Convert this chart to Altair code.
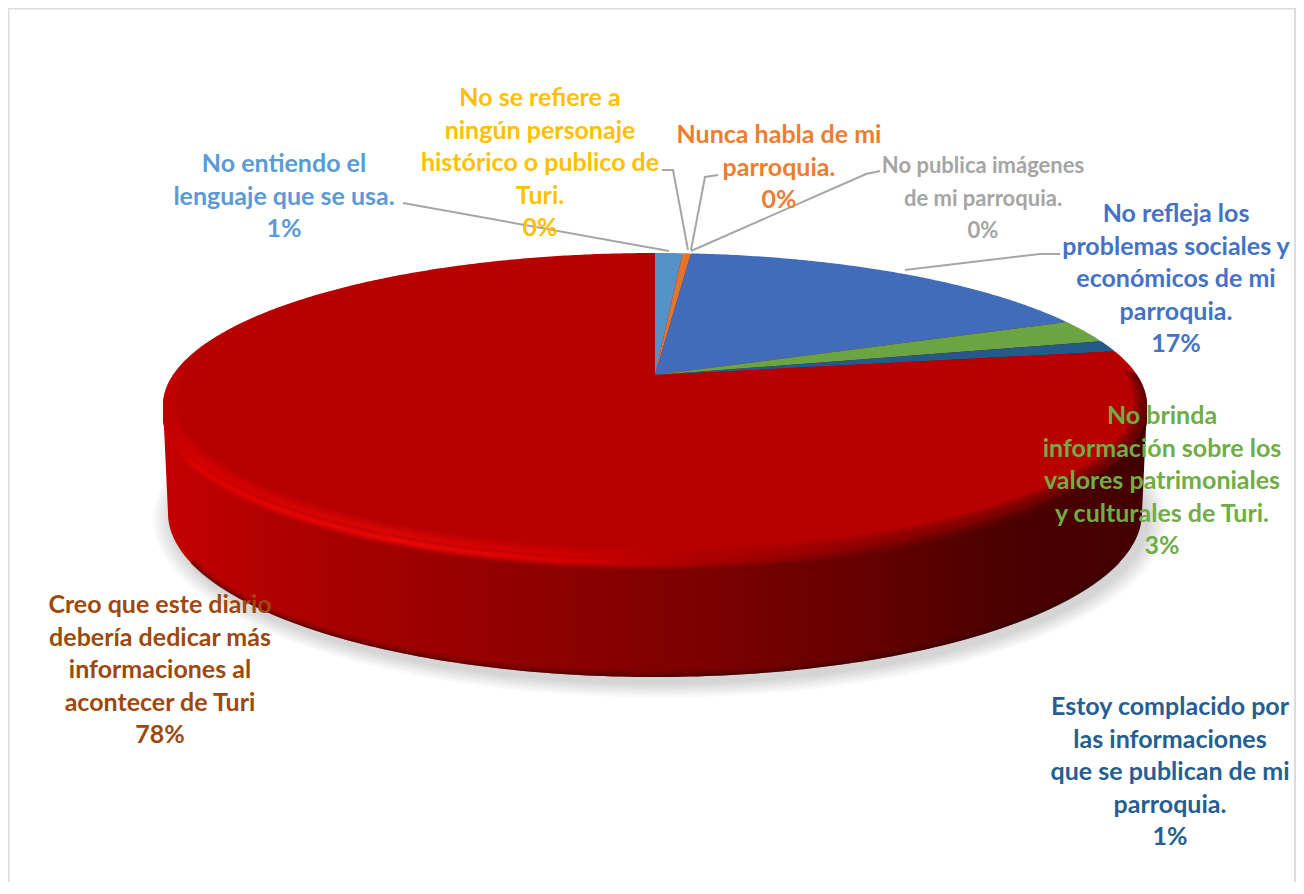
import math
import altair as alt

# ---- data -----------------------------------------------------------------
slice_names = ["No entiendo el lenguaje", "No se refiere", "Nunca habla", "No publica imágenes",
               "No refleja", "No brinda", "Estoy complacido", "Creo que"]
slice_values = [1.1, 0.0, 0.33, 0.0, 17.2, 2.5, 1.2, 77.7]
slice_colors = ["#5592ca", "#e0a800", "#e2752e", "#a5a5a5", "#416cba", "#6aa443", "#235a8a", "#b70000"]

label_texts = [
    "No entiendo el\nlenguaje que se usa.\n1%",
    "No se refiere a\nningún personaje\nhistórico o publico de\nTuri.\n0%",
    "Nunca habla de mi\nparroquia.\n0%",
    "No publica imágenes\nde mi parroquia.\n0%",
    "No refleja los\nproblemas sociales y\neconómicos de mi\nparroquia.\n17%",
    "No brinda\ninformación sobre los\nvalores patrimoniales\ny culturales de Turi.\n3%",
    "Estoy complacido por\nlas informaciones\nque se publican de mi\nparroquia.\n1%",
    "Creo que este diario\ndebería dedicar más\ninformaciones al\nacontecer de Turi\n78%",
]
label_colors = ["#5b9bd5", "#ffc000", "#ed7d31", "#a5a5a5", "#4472c4", "#70ad47", "#255e91", "#9e480e"]
label_cx = [284, 540, 779, 983, 1176, 1162, 1170, 160]
label_cy = [164, 98, 135, 166, 214, 416, 707, 605]
label_sizes = [25, 25, 25, 22, 25, 25, 25, 25]

leaders = [
    [(403, 203), (669, 251)],
    [(662, 170), (673, 170), (688, 250)],
    [(718, 175), (705, 177), (691, 250)],
    [(880, 171), (866, 174), (691, 251)],
    [(905, 270), (1040, 254), (1060, 254)],
]

# ---- geometry of the tilted disc (image pixels) ----------------------------
M = 8                      # page margin
APEX = (655, 375)
A, B, K = 482, 146.4, 0.2  # perspective circle
FACE = (655, 405.5, 492, 152.5)
BASE = (655, 513, 487, 164)

wall_stops = [(0, "#c40000"), (.15, "#aa0000"), (.35, "#920000"), (.55, "#7c0000"),
              (.72, "#640000"), (.85, "#4c0000"), (1, "#430000")]
bevel_stops = [(0, "#c00000"), (.03, "#e00000"), (.24, "#e80808"), (.40, "#dc0000"),
               (.55, "#a80000"), (.75, "#780000"), (.9, "#500000"), (1, "#400000")]


def px(p):
    return [p[0] - M, p[1] - M]


def persp(theta):
    x, z = math.sin(theta), math.cos(theta)
    w = 1 + K * z
    return (APEX[0] + A * x / w, APEX[1] - B * z / w)


def ell(e, t):
    return (e[0] + e[2] * math.cos(t), e[1] + e[3] * math.sin(t))


def ring(points):
    pts = [px(p) for p in points]
    pts.append(pts[0])
    return pts


def feature(kind, coords, **props):
    return {"type": "Feature", "properties": props, "geometry": {"type": kind, "coordinates": coords}}


def full_ellipse(e, dy=0):
    pts = [ell(e, math.radians(a)) for a in range(0, 360, 1)]
    return ring([(x, y + dy) for x, y in pts])


def mix(c1, c2, f):
    a = [int(c1[i:i + 2], 16) for i in (1, 3, 5)]
    b = [int(c2[i:i + 2], 16) for i in (1, 3, 5)]
    return "#%02x%02x%02x" % tuple(round(u + (v - u) * f) for u, v in zip(a, b))


def stop_at(stops, o):
    for (o1, c1), (o2, c2) in zip(stops, stops[1:]):
        if o1 <= o <= o2:
            return mix(c1, c2, (o - o1) / (o2 - o1))
    return stops[-1][1]


def grad(stops):
    return alt.Gradient(gradient="linear", x1=0, x2=1, y1=0, y2=0,
                        stops=[alt.GradientStop(offset=o, color=c) for o, c in stops])


proj = dict(type="identity", scale=1, translate=[0, 0])
layers = []


def shape(features, **mark):
    return alt.Chart(alt.Data(values=features)).mark_geoshape(**mark).project(**proj)


# shadow under the disc
for i in range(7):
    grow = 20 - i * 3
    sh = (660, 519, 487 + grow, 164 + grow * .72)
    layers.append(shape([feature("Polygon", [full_ellipse(sh)])], fill="#000000", fillOpacity=.022, strokeWidth=0))

# frame
layers.append(shape([feature("LineString", [px((8.5, 890)), px((8.5, 8.5)), px((1295, 8.5)), px((1295, 890))])],
                    filled=False, stroke="#dcdcdc", strokeWidth=2))

# side wall
lower_face = [ell(FACE, math.radians(a)) for a in range(180, -1, -1)]
lower_base = [ell(BASE, math.radians(a)) for a in range(0, 181)]
layers.append(shape([feature("Polygon", [ring(lower_face + lower_base)])], fill=grad(wall_stops), strokeWidth=0))

# dark soft lower edge of the wall
for w, op in ((6, .12), (4, .18), (2, .3)):
    edge_pts = [px((p[0], p[1] - w / 2)) for p in lower_base[18:163]]
    layers.append(shape([feature("LineString", edge_pts)], filled=False, stroke="#300000", strokeWidth=w, strokeOpacity=op))

# bevel under the top face: soft steps from the wall to the rim highlight and back to the face colour
offs = sorted(set([o for o, _ in bevel_stops] + [o for o, _ in wall_stops]))
for d, f, g in ((12, .15, 0), (10.5, .35, 0), (9, .6, 0), (7.5, .85, 0), (6, 1, 0),
                (4.5, 1, .15), (3, 1, .4), (1.5, 1, .65)):
    st = [(o, mix(mix(stop_at(wall_stops, o), stop_at(bevel_stops, o), f), "#b70000", g if o < .45 else g * .5))
          for o in offs]
    layers.append(shape([feature("Polygon", [full_ellipse(FACE, d)])], fill=grad(st), strokeWidth=0))

# the slices, clockwise from the top
total = sum(slice_values)
start = 0.0
features = []
for name, value, color in zip(slice_names, slice_values, slice_colors):
    end = start + value / total * 2 * math.pi
    if value > 0:
        n = max(2, int((end - start) / math.radians(0.5)))
        rim = [persp(start + (end - start) * i / n) for i in range(n + 1)]
        features.append(feature("Polygon", [ring([APEX] + rim)], name=name, fill=color))
    start = end
layers.append(shape(features, strokeWidth=0).encode(fill=alt.Fill("properties.fill:N", scale=None, legend=None)))

# soft rim inside the face: crescents between the face edge and smaller ellipses that share its top
for s in (3, 6, 9, 13):
    ry = FACE[3] - s * .35
    inner = (FACE[0], FACE[1] - FACE[3] + ry, FACE[2] - s, ry)
    outer_pts = [ell(FACE, math.radians(a)) for a in range(-12, 193)]
    inner_pts = [ell(inner, math.radians(a)) for a in range(192, -13, -1)]
    layers.append(shape([feature("Polygon", [ring(outer_pts + inner_pts)])],
                        fill=grad(bevel_stops), fillOpacity=.26, strokeWidth=0))

# leader lines
layers.append(shape([feature("LineString", [px(p) for p in line]) for line in leaders],
                    filled=False, stroke="#a6a6a6", strokeWidth=2))

# labels
rows = [{"text": t, "color": c, "lon": x - M, "lat": y - M, "fs": s}
        for t, c, x, y, s in zip(label_texts, label_colors, label_cx, label_cy, label_sizes)]
layers.append(
    alt.Chart(alt.Data(values=rows))
    .mark_text(font="Lato", fontWeight="bold", lineBreak="\n", lineHeight=32.5,
               align="center", baseline="middle")
    .encode(longitude="lon:Q", latitude="lat:Q", text="text:N",
            size=alt.Size("fs:Q", scale=None, legend=None),
            color=alt.Color("color:N", scale=None, legend=None))
    .project(**proj)
)

chart = (
    alt.layer(*layers)
    .properties(width=1288, height=874, padding=0, autosize=alt.AutoSizeParams(type="none"), background="#ffffff")
    .configure_view(stroke=None)
)
chart.save("out.html", embed_options={"renderer": "svg", "actions": False})
